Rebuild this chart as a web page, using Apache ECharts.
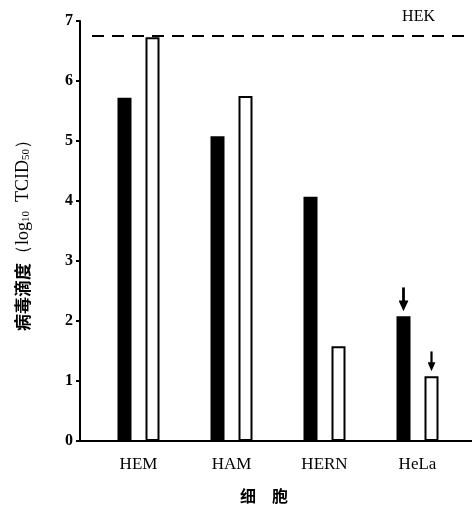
<!DOCTYPE html>
<html><head><meta charset="utf-8">
<script src="https://cdn.jsdelivr.net/npm/echarts@6/dist/echarts.min.js"></script>
<style>html,body{margin:0;padding:0;background:#fff}#c{width:475px;height:516px}</style>
</head><body><div id="c"></div>
<script>
const categories = ['HEM', 'HAM', 'HERN', 'HeLa'];
const blackValues = [5.72, 5.08, 4.07, 2.08];
const whiteValues = [6.73, 5.75, 1.58, 1.08];
const hekLevel = 6.75;
const arrowCategory = 'HeLa';

function arrowSvg(w, h) {
  const m = w / 2, sw = Math.max(1, w * 0.28), head = h * 0.45;
  return "data:image/svg+xml;charset=utf-8," + encodeURIComponent(
    "<svg xmlns='http://www.w3.org/2000/svg' width='" + w + "' height='" + h + "' viewBox='0 0 " + w + " " + h + "'>" +
    "<path d='M" + (m - sw / 2) + " 0H" + (m + sw / 2) + "V" + (h - head) + "H" + w + "L" + m + " " + h + "L0 " + (h - head) + "H" + (m - sw / 2) + "Z' fill='black'/></svg>");
}

function withArrow(values, w, h) {
  return values.map((v, i) => categories[i] === arrowCategory ? {
    value: v,
    label: {show: true, position: 'top', distance: 5, formatter: '{a|}',
      rich: {a: {width: w, height: h, backgroundColor: {image: arrowSvg(w, h)}}}}
  } : v);
}

const serif = "'Liberation Serif', 'DejaVu Serif', serif";
const cjk = "'Noto Sans CJK SC'";
const chart = echarts.init(document.getElementById('c'));
chart.setOption({
  animation: false,
  backgroundColor: '#fff',
  grid: {left: 92, right: 11, top: 21, bottom: 75},
  xAxis: {
    type: 'category', data: categories,
    axisLine: {show: false},
    axisTick: {show: false},
    axisLabel: {color: '#000', fontFamily: serif, fontSize: 17, margin: 15},
    name: '细　胞', nameLocation: 'middle', nameGap: 47,
    nameTextStyle: {color: '#000', fontFamily: cjk, fontWeight: 'bold', fontSize: 16, padding: [0, 28, 0, 0]}
  },
  yAxis: {
    type: 'value', min: 0, max: 7, interval: 1, offset: 12,
    splitLine: {show: false},
    axisLine: {show: true, lineStyle: {color: '#000', width: 2}},
    axisTick: {show: true, length: 4, lineStyle: {color: '#000', width: 2}},
    axisLabel: {color: '#000', fontFamily: serif, fontWeight: 'bold', fontSize: 16, margin: 7},
    name: '{c|病毒滴度}{s|（log}{sub|10}{s|  TCID}{sub|50}{s|）}',
    nameLocation: 'middle', nameGap: 48,
    nameTextStyle: {
      padding: [0, 0, 0, 0],
      rich: {
        c: {fontFamily: cjk, fontWeight: 'bold', fontSize: 17, color: '#000'},
        s: {fontFamily: serif, fontSize: 18, color: '#000'},
        sub: {fontFamily: serif, fontSize: 11, color: '#000', verticalAlign: 'bottom', padding: [7, 0, 0, 0]}
      }
    }
  },
  series: [
    {
      type: 'bar', data: withArrow(blackValues, 10, 24), barWidth: 14, barGap: '100%',
      itemStyle: {color: '#000'},
      markLine: {
        silent: true, symbol: 'none',
        lineStyle: {color: '#000', type: [12, 8], width: 2},
        label: {show: true, position: 'insideEndTop', formatter: 'HEK', color: '#000', fontFamily: serif, fontSize: 16, offset: [-24, -6]},
        data: [{yAxis: hekLevel}]
      }
    },
    {
      type: 'bar', data: withArrow(whiteValues, 8, 20), barWidth: 14,
      itemStyle: {color: '#fff', borderColor: '#000', borderWidth: 2}
    }
  ]
});

const y0 = chart.convertToPixel({yAxisIndex: 0}, 0);
chart.setOption({
  graphic: [{type: 'line', shape: {x1: 80, y1: y0, x2: 472, y2: y0}, style: {stroke: '#000', lineWidth: 2}, z: 10}]
});
</script></body></html>
